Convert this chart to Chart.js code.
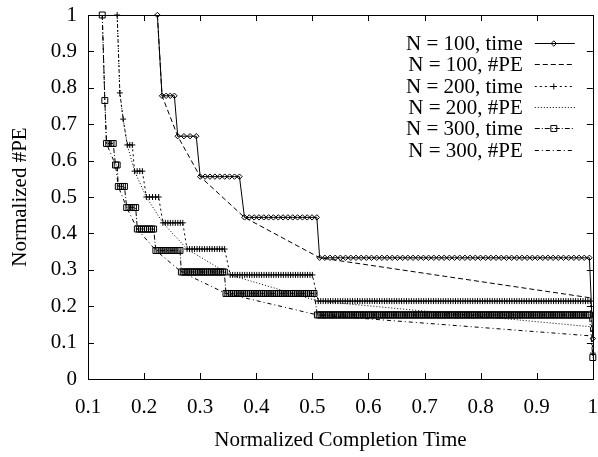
<!DOCTYPE html>
<html>
<head>
<meta charset="utf-8">
<script src="https://cdn.jsdelivr.net/npm/chart.js@4/dist/chart.umd.min.js"></script>
<style>
html,body{margin:0;padding:0;background:#fff;}
#wrap{width:598px;height:457px;position:relative;}
</style>
</head>
<body>
<div id="wrap"><canvas id="c" width="598" height="457"></canvas></div>
<script>
// ---- tick labels ----
const xTicks = [0.1, 0.2, 0.3, 0.4, 0.5, 0.6, 0.7, 0.8, 0.9, 1.0];
const yTicks = [0, 0.1, 0.2, 0.3, 0.4, 0.5, 0.6, 0.7, 0.8, 0.9, 1.0];
const xTitle = 'Normalized Completion Time';
const yTitle = 'Normalized #PE';
const seriesLabels = ['N = 100, time', 'N = 100, #PE', 'N = 200, time', 'N = 200, #PE', 'N = 300, time', 'N = 300, #PE'];

// ---- N = 100, time: flat runs (start x, end x, level, number of plotted samples) ----
const n100RunStart = [0.2237, 0.232, 0.260, 0.300, 0.379, 0.513, 1.0];
const n100RunEnd   = [0.2237, 0.254, 0.293, 0.370, 0.508, 0.994, 1.0];
const n100RunLevel = [1.0, 0.778, 0.667, 0.556, 0.444, 0.333, 0.111];
const n100RunCount = [1, 4, 4, 9, 16, 53, 1];
// ---- N = 100, #PE ----
const n100PeX = [0.2237, 0.232, 0.260, 0.300, 0.379, 0.513, 1.0];
const n100PeY = [1.0, 0.778, 0.667, 0.556, 0.444, 0.333, 0.222];

// ---- N = 200, time ----
const n200RunStart = [0.152, 0.1568, 0.1627, 0.170, 0.183, 0.204, 0.2335, 0.2766, 0.3535, 0.5105, 1.0];
const n200RunEnd   = [0.152, 0.1568, 0.1627, 0.179, 0.197, 0.226, 0.269, 0.3436, 0.500, 0.9956, 1.0];
const n200RunLevel = [1.0, 0.786, 0.714, 0.643, 0.571, 0.5, 0.429, 0.357, 0.286, 0.214, 0.071];
const n200RunCount = [1, 1, 1, 3, 4, 5, 9, 16, 35, 112, 1];
// ---- N = 200, #PE ----
const n200PeX = [0.152, 0.1568, 0.1627, 0.170, 0.183, 0.204, 0.2335, 0.2766, 0.3535, 0.5105, 1.0];
const n200PeY = [1.0, 0.786, 0.714, 0.643, 0.571, 0.5, 0.429, 0.357, 0.286, 0.214, 0.143];

// ---- N = 300, time ----
const n300RunStart = [0.1254, 0.130, 0.133, 0.149, 0.154, 0.169, 0.188, 0.221, 0.2665, 0.346, 0.509, 1.0];
const n300RunEnd   = [0.1254, 0.130, 0.145, 0.152, 0.165, 0.185, 0.217, 0.264, 0.343, 0.503, 0.994, 1.0];
const n300RunLevel = [1.0, 0.765, 0.647, 0.588, 0.529, 0.471, 0.412, 0.353, 0.294, 0.235, 0.176, 0.059];
const n300RunCount = [1, 1, 4, 2, 4, 5, 9, 13, 24, 48, 150, 1];
// ---- N = 300, #PE ----
const n300PeX = [0.1254, 0.130, 0.133, 0.149, 0.154, 0.169, 0.188, 0.221, 0.2665, 0.346, 0.509, 1.0];
const n300PeY = [1.0, 0.765, 0.647, 0.588, 0.529, 0.471, 0.412, 0.353, 0.294, 0.235, 0.176, 0.118];

function runsToPoints(starts, ends, levels, counts) {
  const pts = [];
  for (let i = 0; i < starts.length; i++) {
    const n = counts[i];
    for (let k = 0; k < n; k++) {
      const x = n === 1 ? starts[i] : starts[i] + (ends[i] - starts[i]) * k / (n - 1);
      pts.push({x: x, y: levels[i]});
    }
  }
  return pts;
}
function zipXY(xs, ys) { return xs.map((x, i) => ({x: x, y: ys[i]})); }

const FONT = '"Liberation Serif", "Times New Roman", serif';

function fmt(v) { return String(Math.round(v * 10) / 10); }

const frameTicksPlugin = {
  id: 'frameTicks',
  afterDraw(chart) {
    const {ctx, chartArea: a, scales} = chart;
    ctx.save();
    ctx.strokeStyle = '#000';
    ctx.lineWidth = 1;
    ctx.setLineDash([]);
    const L = 6;
    ctx.beginPath();
    xTicks.forEach(v => {
      const px = Math.round(scales.x.getPixelForValue(v)) + 0.5;
      ctx.moveTo(px, a.bottom); ctx.lineTo(px, a.bottom - L);
      ctx.moveTo(px, a.top); ctx.lineTo(px, a.top + L);
    });
    yTicks.forEach(v => {
      const py = Math.round(scales.y.getPixelForValue(v)) + 0.5;
      ctx.moveTo(a.left, py); ctx.lineTo(a.left + L, py);
      ctx.moveTo(a.right, py); ctx.lineTo(a.right - L, py);
    });
    ctx.stroke();
    ctx.strokeRect(Math.round(a.left) + 0.5, Math.round(a.top) + 0.5, Math.round(a.right - a.left), Math.round(a.bottom - a.top));
    ctx.restore();
  }
};

const legendPlugin = {
  id: 'serifLegend',
  afterDraw(chart) {
    const ctx = chart.ctx;
    const a = chart.chartArea;
    ctx.save();
    ctx.font = '21px ' + FONT;
    ctx.textAlign = 'right';
    ctx.textBaseline = 'middle';
    chart.data.datasets.forEach((ds, i) => {
      const y = Math.round(a.top + 28 + i * 21.3) + 0.5;
      ctx.fillStyle = '#000';
      ctx.fillText(ds.label, a.right - 70, y + 1);
      ctx.beginPath();
      ctx.strokeStyle = '#000';
      ctx.lineWidth = 1;
      ctx.setLineDash(ds.borderDash || []);
      ctx.moveTo(a.right - 58, y);
      ctx.lineTo(a.right - 18, y);
      ctx.stroke();
      ctx.setLineDash([]);
      if (ds.pointRadius > 0) {
        ctx.fillStyle = 'rgba(0,0,0,0)';
        Chart.helpers.drawPoint(ctx, {pointStyle: ds.pointStyle, rotation: 0, radius: ds.pointRadius, borderWidth: 1}, a.right - 39, y);
      }
    });
    ctx.restore();
  }
};

function build() {
  const common = {borderColor: '#000', borderWidth: 1, fill: false, tension: 0, clip: false,
                  pointBorderColor: '#000', pointBackgroundColor: 'rgba(0,0,0,0)', pointBorderWidth: 1, pointHoverRadius: 0};
  const datasets = [
    Object.assign({}, common, {label: seriesLabels[0], data: runsToPoints(n100RunStart, n100RunEnd, n100RunLevel, n100RunCount),
      borderDash: [], pointStyle: 'rectRot', pointRadius: 2.7}),
    Object.assign({}, common, {label: seriesLabels[1], data: zipXY(n100PeX, n100PeY),
      borderDash: [5, 3], pointRadius: 0}),
    Object.assign({}, common, {label: seriesLabels[2], data: runsToPoints(n200RunStart, n200RunEnd, n200RunLevel, n200RunCount),
      borderDash: [2, 3], pointStyle: 'cross', pointRadius: 3}),
    Object.assign({}, common, {label: seriesLabels[3], data: zipXY(n200PeX, n200PeY),
      borderDash: [1, 2], pointRadius: 0}),
    Object.assign({}, common, {label: seriesLabels[4], data: runsToPoints(n300RunStart, n300RunEnd, n300RunLevel, n300RunCount),
      borderDash: [5, 2, 1, 2], pointStyle: 'rect', pointRadius: 4.2}),
    Object.assign({}, common, {label: seriesLabels[5], data: zipXY(n300PeX, n300PeY),
      borderDash: [4, 3, 1, 3], pointRadius: 0})
  ];

  new Chart(document.getElementById('c'), {
    type: 'line',
    data: {datasets: datasets},
    options: {
      responsive: false,
      animation: false,
      devicePixelRatio: 1,
      layout: {padding: {top: 15, right: 3, left: 0, bottom: 0}},
      plugins: {legend: {display: false}, tooltip: {enabled: false}},
      events: [],
      scales: {
        x: {
          type: 'linear', min: 0.1, max: 1.0,
          afterBuildTicks: s => { s.ticks = xTicks.map(v => ({value: v})); },
          afterFit: s => { s.height = 78; s.paddingLeft = 0; s.paddingRight = 0; s.paddingTop = 0; s.paddingBottom = 0; },
          grid: {display: false, drawTicks: false},
          border: {display: false},
          ticks: {color: '#000', font: {family: FONT, size: 21}, padding: 16, maxRotation: 0, autoSkip: false, callback: v => fmt(v)},
          title: {display: true, text: xTitle, color: '#000', font: {family: FONT, size: 21}, padding: {top: 0, bottom: 4}}
        },
        y: {
          type: 'linear', min: 0, max: 1.0,
          afterBuildTicks: s => { s.ticks = yTicks.map(v => ({value: v})); },
          afterFit: s => { s.width = 88; s.paddingLeft = 0; s.paddingRight = 0; s.paddingTop = 0; s.paddingBottom = 0; },
          grid: {display: false, drawTicks: false},
          border: {display: false},
          ticks: {color: '#000', font: {family: FONT, size: 21}, padding: 11, autoSkip: false, callback: v => fmt(v)},
          title: {display: true, text: yTitle, color: '#000', font: {family: FONT, size: 21}, padding: {top: 8, bottom: 0}}
        }
      }
    },
    plugins: [frameTicksPlugin, legendPlugin]
  });
}

if (document.fonts && document.fonts.load) {
  document.fonts.load('21px "Liberation Serif"').then(build, build);
} else { build(); }
</script>
</body>
</html>
